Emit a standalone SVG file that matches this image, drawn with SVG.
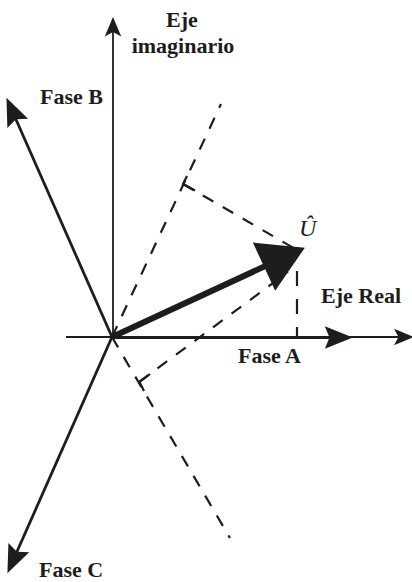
<svg xmlns="http://www.w3.org/2000/svg" width="412" height="582" viewBox="0 0 412 582">
<style>
.axis{stroke:#1e1c1d;stroke-width:1.8;fill:none}
.phase{stroke:#1e1c1d;stroke-width:2.8;fill:none}
.dash{stroke:#1e1c1d;stroke-width:2.2;fill:none;stroke-dasharray:12 11}
.corner{stroke:#1e1c1d;stroke-width:2.2;fill:none}
.lbl{font-family:"Liberation Serif","Times New Roman",serif;font-weight:bold;font-size:22px;fill:#1e1c1d}
.sym{font-family:"Liberation Serif","Times New Roman",serif;font-style:italic;font-size:24px;fill:#1e1c1d}
</style>
<defs>
<marker id="axHead" markerUnits="userSpaceOnUse" orient="auto" refX="0" refY="0" markerWidth="30" markerHeight="30" viewBox="-12 -8 20 16" overflow="visible">
<path d="M4,0 L-9,-5.5 L-6,0 L-9,5.5 Z" fill="#1e1c1d"/>
</marker>
<marker id="phHead" markerUnits="userSpaceOnUse" orient="auto" refX="0" refY="0" markerWidth="40" markerHeight="40" viewBox="-20 -12 30 24" overflow="visible">
<path d="M4,0 L-17,-8.5 L-13.5,0 L-17,8.5 Z" fill="#1e1c1d"/>
</marker>
<marker id="uHead" markerUnits="userSpaceOnUse" orient="auto" refX="0" refY="0" markerWidth="60" markerHeight="60" viewBox="-22 -26 46 52" overflow="visible">
<path d="M20,0 L-19,-23 L-19,23 Z" fill="#1e1c1d"/>
</marker>
</defs>

<g id="connectors">
<path class="dash" d="M112,337 L221,104"/>
<path class="dash" d="M183,184 L297,250"/>
<path class="dash" d="M297,337 L297,252" style="stroke-dasharray:10 13 15 13 15 100"/>
<path class="dash" d="M112,337 L230,538"/>
<path class="dash" d="M139,382 L288,272"/>
<polyline class="corner" points="187,176 183,184 195,190.5"/>
<polyline class="corner" points="150,374 139.5,382 144,391"/>
<line class="axis" x1="66" y1="337" x2="407.5" y2="337" marker-end="url(#axHead)"/>
<line class="axis" x1="113" y1="337" x2="113" y2="23" marker-end="url(#axHead)"/>
<line class="phase" x1="112" y1="337.5" x2="347.5" y2="337.5" marker-end="url(#phHead)"/>
<line class="phase" x1="112" y1="337" x2="8.6" y2="102.7" marker-end="url(#phHead)"/>
<line class="phase" x1="112" y1="337" x2="9.6" y2="568.3" marker-end="url(#phHead)"/>
<line stroke="#1e1c1d" stroke-width="6" x1="112" y1="337" x2="283.9" y2="257.4" marker-end="url(#uHead)"/>
</g>

<g id="eje-imaginario">
<text class="lbl" x="182" y="27" text-anchor="middle">Eje</text>
<text class="lbl" x="183" y="53" text-anchor="middle">imaginario</text>
</g>
<g id="fase-b"><text class="lbl" x="40" y="104">Fase B</text></g>
<g id="eje-real"><text class="lbl" x="321" y="303">Eje Real</text></g>
<g id="fase-a"><text class="lbl" x="238" y="363">Fase A</text></g>
<g id="fase-c"><text class="lbl" x="39" y="577">Fase C</text></g>
<g id="u-hat"><text class="sym" x="299" y="236">Û</text></g>
</svg>
